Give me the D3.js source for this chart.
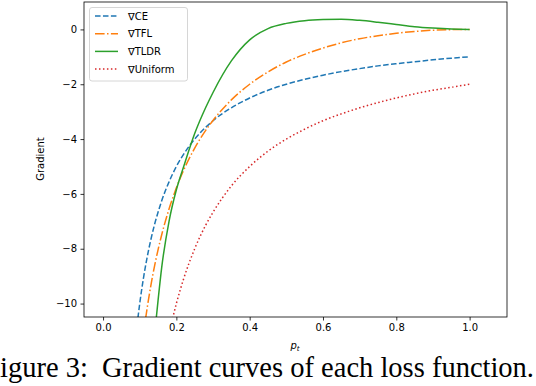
<!DOCTYPE html>
<html>
<head>
<meta charset="utf-8">
<script src="https://cdnjs.cloudflare.com/ajax/libs/d3/7.8.5/d3.min.js"></script>
<style>
  html, body { margin: 0; padding: 0; background: #fff; }
  svg { display: block; }
  text { font-family: "DejaVu Sans", sans-serif; fill: #000; }
</style>
</head>
<body>
<svg id="chart"></svg>
<script>
// values
var pValues = [0.09, 0.10, 0.11, 0.12, 0.13, 0.14, 0.15, 0.16, 0.18, 0.20, 0.22, 0.25, 0.28, 0.30,
               0.35, 0.40, 0.45, 0.50, 0.55, 0.60, 0.65, 0.70, 0.75, 0.80, 0.85, 0.90, 0.95, 1.00];

var ceGrad = [-11.11, -10.0, -9.09, -8.33, -7.69, -7.14, -6.67, -6.25, -5.56, -5.0, -4.55, -4.0, -3.57, -3.33,
              -2.86, -2.5, -2.22, -2.0, -1.82, -1.67, -1.54, -1.43, -1.33, -1.25, -1.18, -1.11, -1.05, -1.0];

var tflGrad = [null, null, -11.13, -10.19, -9.37, -8.66, -8.04, -7.49, -6.55, -5.78, -5.13, -4.33, -3.68, -3.32,
               -2.57, -2.0, -1.55, -1.19, -0.91, -0.68, -0.49, -0.34, -0.23, -0.14, -0.075, -0.03, -0.008, 0.0];

var tldrGrad = [null, null, null, null, null, -11.2, -9.89, -8.68, -7.0, -5.85, -5.0, -3.8, -2.85, -2.3,
                -1.15, -0.38, 0.03, 0.22, 0.32, 0.36, 0.37, 0.33, 0.26, 0.18, 0.10, 0.05, 0.015, 0.0];

var uniformGrad = [null, null, null, null, null, null, null, null, -11.11, -10.0, -9.09, -8.0, -7.14, -6.67,
                   -5.71, -5.0, -4.44, -4.0, -3.64, -3.33, -3.08, -2.86, -2.67, -2.5, -2.35, -2.22, -2.11, -2.0];

var seriesNames = ["\u2207CE", "\u2207TFL", "\u2207TLDR", "\u2207Uniform"];
var xTicks = [0.0, 0.2, 0.4, 0.6, 0.8, 1.0];
var yTicks = [0, -2, -4, -6, -8, -10];
var caption1 = "Figure 3:";
var caption2 = "Gradient curves of each loss function.";

var svgWidth = 536, svgHeight = 386;
var plotLeft = 84, plotRight = 507, plotTop = 2, plotBottom = 317;

var svg = d3.select("#chart")
    .attr("width", svgWidth)
    .attr("height", svgHeight);

var x = d3.scaleLinear().domain([-0.052, 1.102]).range([plotLeft, plotRight]);
var y = d3.scaleLinear().domain([-10.49, 1.0]).range([plotBottom, plotTop]);

var styles = [
  {color: "#1f77b4", dash: "5.55,2.4"},
  {color: "#ff7f0e", dash: "9.6,2.4,1.5,2.4"},
  {color: "#2ca02c", dash: null},
  {color: "#d62728", dash: "1.5,2.475"}
];
var allSeries = [ceGrad, tflGrad, tldrGrad, uniformGrad];

svg.append("clipPath").attr("id", "plotclip")
  .append("rect")
    .attr("x", plotLeft).attr("y", plotTop)
    .attr("width", plotRight - plotLeft).attr("height", plotBottom - plotTop);

var line = d3.line()
    .defined(function(d) { return d[1] !== null; })
    .x(function(d) { return x(d[0]); })
    .y(function(d) { return y(d[1]); })
    .curve(d3.curveMonotoneX);

var plot = svg.append("g").attr("clip-path", "url(#plotclip)");

allSeries.forEach(function(vals, i) {
  var pts = pValues.map(function(p, j) { return [p, vals[j]]; });
  plot.append("path")
    .attr("d", line(pts))
    .attr("fill", "none")
    .attr("stroke", styles[i].color)
    .attr("stroke-width", 1.5)
    .attr("stroke-dasharray", styles[i].dash);
});

// axes
var xAxis = d3.axisBottom(x).tickValues(xTicks).tickSize(3.5).tickPadding(3.5)
    .tickFormat(d3.format(".1f"));
var yAxis = d3.axisLeft(y).tickValues(yTicks).tickSize(3.5).tickPadding(3.5)
    .tickFormat(function(d) { return d < 0 ? "\u2212" + Math.abs(d) : d; });

var gx = svg.append("g").attr("transform", "translate(0," + plotBottom + ")").call(xAxis);
var gy = svg.append("g").attr("transform", "translate(" + plotLeft + ",0)").call(yAxis);
[gx, gy].forEach(function(g) {
  g.select(".domain").remove();
  g.selectAll(".tick line").attr("stroke", "#000").attr("stroke-width", 0.8);
  g.selectAll(".tick text").style("font-family", "DejaVu Sans").style("font-size", "10px").attr("fill", "#000");
});

// frame
svg.append("rect")
    .attr("x", plotLeft).attr("y", plotTop)
    .attr("width", plotRight - plotLeft).attr("height", plotBottom - plotTop)
    .attr("fill", "none").attr("stroke", "#000").attr("stroke-width", 0.8);

// legend
var legend = svg.append("g");
legend.append("rect")
    .attr("x", 89.5).attr("y", 7.5).attr("width", 98).attr("height", 73.5)
    .attr("rx", 2.5)
    .attr("fill", "#fff").attr("fill-opacity", 0.8)
    .attr("stroke", "#cccccc").attr("stroke-width", 0.8);
seriesNames.forEach(function(name, i) {
  var ly = 16 + i * 17.7;
  legend.append("line")
    .attr("x1", 95).attr("x2", 118).attr("y1", ly).attr("y2", ly)
    .attr("stroke", styles[i].color).attr("stroke-width", 1.5)
    .attr("stroke-dasharray", styles[i].dash);
  legend.append("text")
    .attr("x", 128).attr("y", ly + 3.6)
    .style("font-size", "10px")
    .text(name);
});

// axis labels
svg.append("text")
    .attr("transform", "translate(44,159)rotate(-90)")
    .attr("text-anchor", "middle")
    .style("font-size", "10px")
    .text("Gradient");

var xl = svg.append("text")
    .attr("x", 295).attr("y", 349)
    .attr("text-anchor", "middle")
    .style("font-size", "10px");
xl.append("tspan").style("font-style", "italic").text("p");
xl.append("tspan").attr("dy", 1.5).style("font-style", "italic").style("font-size", "7px").text("t");

// caption (cut at the page edges as in the scan)
svg.append("text")
    .attr("x", -15.8).attr("y", 377)
    .style("font-family", "Liberation Serif").style("font-size", "28.5px")
    .text(caption1);
svg.append("text")
    .attr("x", 534).attr("y", 377)
    .attr("text-anchor", "end")
    .style("font-family", "Liberation Serif").style("font-size", "28.5px")
    .text(caption2);
</script>
</body>
</html>
